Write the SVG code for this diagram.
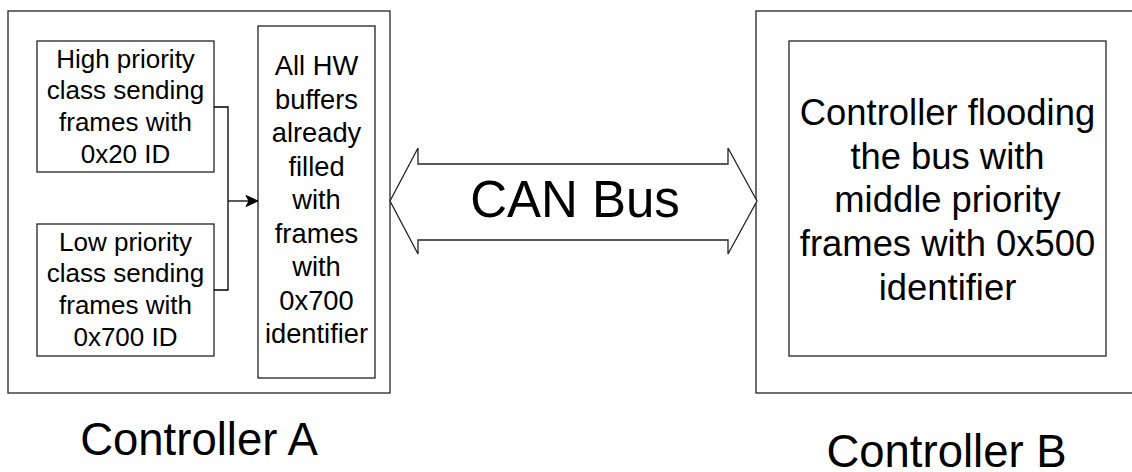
<svg xmlns="http://www.w3.org/2000/svg" width="1132" height="472" viewBox="0 0 1132 472">
<style>
.box{fill:#fff;stroke:#222;stroke-width:1.3}
.t{font-family:"Liberation Sans",Arial,sans-serif;fill:#000;text-anchor:middle}
.s26{font-size:26px}
.s27{font-size:27.3px}
.s36{font-size:36.4px}
.s45{font-size:45.5px}
.s50{font-size:51px}
.ln{fill:none;stroke:#000;stroke-width:1.3}
</style>
<rect width="1132" height="472" fill="#fff"/>
<g id="controllerA">
<rect class="box" x="8" y="11" width="382" height="382"/>
<text class="t s45" x="199" y="455">Controller A</text>
</g>
<g id="controllerB">
<rect class="box" x="756" y="11" width="380" height="382"/>
<text class="t s45" x="946.5" y="467">Controller B</text>
</g>
<g id="highPriority">
<rect class="box" x="37" y="41" width="177" height="131"/>
<text class="t s26" x="125.5"><tspan x="125.5" y="67.5">High priority</tspan><tspan x="125.5" y="99.2">class sending</tspan><tspan x="125.5" y="130.9">frames with</tspan><tspan x="125.5" y="162.6">0x20 ID</tspan></text>
</g>
<g id="lowPriority">
<rect class="box" x="37" y="224" width="177" height="132"/>
<text class="t s26" x="125.5"><tspan x="125.5" y="250.5">Low priority</tspan><tspan x="125.5" y="282.2">class sending</tspan><tspan x="125.5" y="313.9">frames with</tspan><tspan x="125.5" y="345.6">0x700 ID</tspan></text>
</g>
<g id="hwBuffers">
<rect class="box" x="258" y="26" width="117" height="352"/>
<text class="t s27" x="316.5"><tspan x="316.5" y="75">All HW</tspan><tspan x="316.5" y="108.5">buffers</tspan><tspan x="316.5" y="142">already</tspan><tspan x="316.5" y="175.5">filled</tspan><tspan x="316.5" y="209">with</tspan><tspan x="316.5" y="242.5">frames</tspan><tspan x="316.5" y="276">with</tspan><tspan x="316.5" y="309.5">0x700</tspan><tspan x="316.5" y="343">identifier</tspan></text>
</g>
<g id="flooding">
<rect class="box" x="789" y="41" width="317" height="315"/>
<text class="t s36" x="947.5"><tspan x="947.5" y="125">Controller flooding</tspan><tspan x="947.5" y="168.7">the bus with</tspan><tspan x="947.5" y="212.4">middle priority</tspan><tspan x="947.5" y="256.1">frames with 0x500</tspan><tspan x="947.5" y="299.8">identifier</tspan></text>
</g>
<g id="canBus">
<polygon class="box" points="390,201 418,148 418,164 728,164 728,148 757,201 728,254 728,240 418,240 418,254"/>
<text class="t s50" x="575" y="217">CAN Bus</text>
</g>
<g id="connectors">
<polyline class="ln" points="214,107 228,107 228,290 214,290"/>
<line class="ln" x1="228" y1="201" x2="250" y2="201"/>
<path d="M258,201 L246,195.5 L249,201 L246,206.5 Z" fill="#000" stroke="#000" stroke-width="1"/>
</g>
</svg>
